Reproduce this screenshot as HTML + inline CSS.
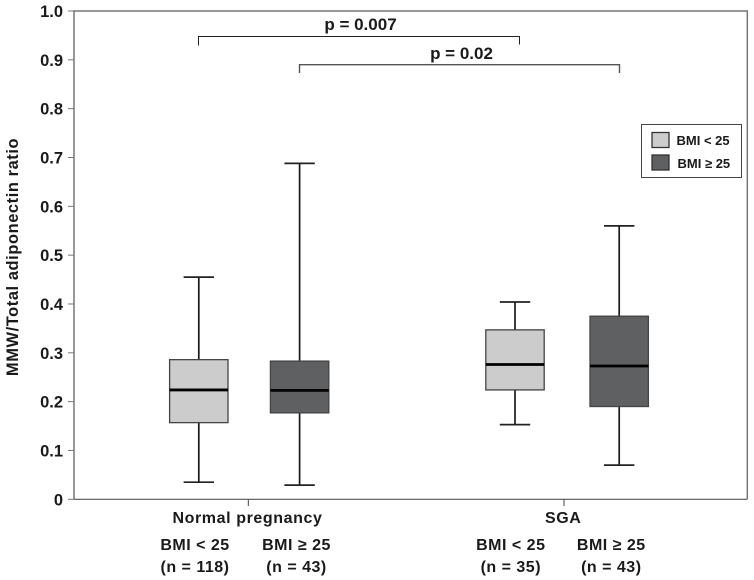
<!DOCTYPE html>
<html>
<head>
<meta charset="utf-8">
<title>MMW/Total adiponectin ratio</title>
<style>
html,body{margin:0;padding:0;background:#fff;width:754px;height:580px;overflow:hidden}
svg{display:block}
text{font-family:"Liberation Sans",sans-serif;font-weight:bold;fill:#1a1a1a}
</style>
</head>
<body>
<svg id="chart" width="754" height="580" viewBox="0 0 754 580" xmlns="http://www.w3.org/2000/svg">
  <rect x="74" y="11" width="673.5" height="488" fill="#fff" stroke="none"/>
  <g id="axes"></g>
  <g id="boxes"></g>

  <g>
    <path d="M198.5 45.5V36.5H519.5V44.5" fill="none" stroke="#222" stroke-width="1"/>
    <text x="360.5" y="30" font-size="17" text-anchor="middle">p = 0.007</text>
  </g>
  <g>
    <path d="M299.5 73V64.7H619.5V73" fill="none" stroke="#555" stroke-width="1.4"/>
    <text x="461.5" y="59" font-size="17" text-anchor="middle">p = 0.02</text>
  </g>

  <g>
    <rect x="641.5" y="124.5" width="100" height="53" fill="#fff" stroke="#444" stroke-width="1"/>
    <rect x="652" y="132.5" width="17" height="15" fill="#cccccd" stroke="#333" stroke-width="1.3"/>
    <text x="676.5" y="145" font-size="13">BMI &lt; 25</text>
    <rect x="652" y="155" width="17" height="15" fill="#5f6062" stroke="#333" stroke-width="1.3"/>
    <text x="677.5" y="168" font-size="13">BMI ≥ 25</text>
  </g>

  <text transform="translate(18,257) rotate(-90)" font-size="16.5" letter-spacing="0.55" text-anchor="middle">MMW/Total adiponectin ratio</text>
  <g id="xlabels"></g>
</svg>
<script>
var yTickLabels = ["0","0.1","0.2","0.3","0.4","0.5","0.6","0.7","0.8","0.9","1.0"];
var yTickValues = [0,0.1,0.2,0.3,0.4,0.5,0.6,0.7,0.8,0.9,1.0];
var groupNames = ["Normal pregnancy","SGA"];
var boxNames = ["normal-bmi-under-25","normal-bmi-over-25","sga-bmi-under-25","sga-bmi-over-25"];
var boxBmiLabels = ["BMI < 25","BMI ≥ 25","BMI < 25","BMI ≥ 25"];
var boxCountLabels = ["(n = 118)","(n = 43)","(n = 35)","(n = 43)"];
var whiskerHigh = [0.455,0.688,0.404,0.560];
var quartile3 = [0.286,0.283,0.347,0.375];
var medians = [0.224,0.223,0.276,0.273];
var quartile1 = [0.157,0.177,0.224,0.190];
var whiskerLow = [0.035,0.029,0.153,0.070];
var boxFills = ["#cccccd","#5f6062","#cccccd","#5f6062"];

var NS = "http://www.w3.org/2000/svg";
function yScale(v){ return 499.3 - v * 488.3; }
function boxCenter(i){
  var group = Math.floor(i / 2);
  var side = i % 2;
  return 198.8 + group * 316.2 + side * 100.8 + (group && side ? 3.4 : 0);
}
function groupCenter(g){ return 248.3 + g * 315.7; }
function make(parent, tag, attrs){
  var el = document.createElementNS(NS, tag);
  for (var k in attrs) el.setAttribute(k, attrs[k]);
  parent.appendChild(el);
  return el;
}
var axes = document.getElementById("axes");
var boxes = document.getElementById("boxes");
var xlabels = document.getElementById("xlabels");

var frame = make(axes, "path", {d:"M74 499.3V11H747.3V499.3", fill:"none", stroke:"#777", "stroke-width":1.5});


var xLine = make(axes, "line", {x1:74, x2:747.3, y1:499.3, y2:499.3, stroke:"#555", "stroke-width":1.2});



yTickValues.forEach(function(v, i){
  var y = yScale(v);
  var tick = make(axes, "line", {x1:68, x2:74, y1:y, y2:y, stroke:"#777", "stroke-width":1});
  
  
  var label = make(axes, "text", {x:63, y:y + 6, "font-size":16.5, "text-anchor":"end"});
  
  
  label.textContent = yTickLabels[i];
});

groupNames.forEach(function(name, g){
  var cx = groupCenter(g);
  var tick = make(axes, "line", {x1:cx, x2:cx, y1:499.3, y2:506, stroke:"#444", "stroke-width":1});
  
  
  var label = make(xlabels, "text", {x:cx - 0.8, y:523, "font-size":16, "text-anchor":"middle", "letter-spacing":0.6});
  
  
  label.textContent = name;
});

medians.forEach(function(m, i){
  var cx = boxCenter(i);
  var halfBox = 29.2, halfCap = 15.2;
  var g = make(boxes, "g", {});
  
  
  var yHigh = yScale(whiskerHigh[i]), yLow = yScale(whiskerLow[i]);
  var yQ3 = yScale(quartile3[i]), yQ1 = yScale(quartile1[i]), yMed = yScale(m);

  var whisker = make(g, "line", {x1:cx, x2:cx, y1:yHigh, y2:yLow, stroke:"#1a1a1a", "stroke-width":1.7});
  
  
  var capHigh = make(g, "line", {x1:cx - halfCap, x2:cx + halfCap, y1:yHigh, y2:yHigh, stroke:"#222", "stroke-width":1.7});
  
  
  var capLow = make(g, "line", {x1:cx - halfCap, x2:cx + halfCap, y1:yLow, y2:yLow, stroke:"#222", "stroke-width":1.7});
  
  
  var box = make(g, "rect", {x:cx - halfBox, y:yQ3, width:halfBox * 2, height:yQ1 - yQ3, fill:boxFills[i], stroke:"#444", "stroke-width":1.3});
  
  
  var med = make(g, "line", {x1:cx - halfBox, x2:cx + halfBox, y1:yMed, y2:yMed, stroke:"#000", "stroke-width":2.8});
  
  

  var lx = [195, 296.5, 510.8, 611.3][i];
  var bmi = make(xlabels, "text", {x:lx, y:550, "font-size":16, "letter-spacing":0.5, "text-anchor":"middle"});
  
  
  bmi.textContent = boxBmiLabels[i];
  var cnt = make(xlabels, "text", {x:lx, y:572, "font-size":16, "letter-spacing":0.5, "text-anchor":"middle"});
  
  
  cnt.textContent = boxCountLabels[i];
});
</script>
</body>
</html>
